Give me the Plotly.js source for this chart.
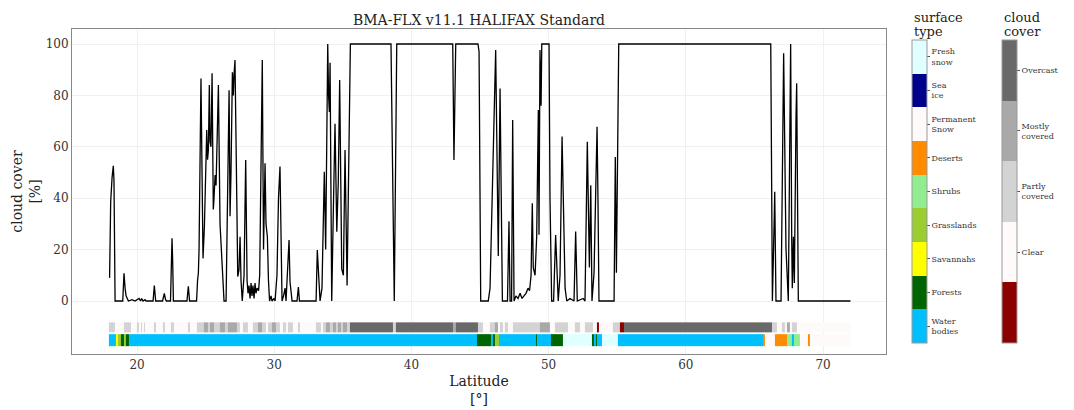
<!DOCTYPE html>
<html><head><meta charset="utf-8">
<script src="https://cdn.plot.ly/plotly-3.0.1.min.js"></script>
<style>html,body{margin:0;padding:0;background:#fff}</style>
</head><body><div id="chart" style="width:1074px;height:410px"></div>
<script>
const latitude = [18.00,18.08,18.18,18.27,18.32,18.40,18.96,19.05,19.13,19.20,19.37,19.64,19.85,20.15,20.26,20.34,20.44,20.58,20.66,21.17,21.26,21.36,21.86,21.99,22.08,22.15,22.44,22.48,22.51,22.55,22.60,22.65,23.64,23.74,23.83,24.34,24.41,24.47,24.52,24.66,24.81,24.91,25.08,25.14,25.20,25.27,25.32,25.39,25.47,25.56,25.61,25.69,25.76,25.93,26.05,26.17,26.27,26.34,26.49,26.60,26.65,26.71,26.78,26.85,26.95,27.02,27.07,27.14,27.27,27.34,27.43,27.51,27.58,27.67,27.80,27.92,28.02,28.09,28.16,28.24,28.31,28.38,28.45,28.53,28.60,28.67,28.75,28.86,28.94,29.13,29.22,29.33,29.40,29.50,29.58,29.66,29.77,29.84,29.99,30.06,30.20,30.31,30.42,30.50,30.57,30.68,30.79,30.86,30.97,31.08,31.15,31.22,31.30,31.66,31.76,31.84,33.05,33.14,33.21,33.34,33.48,33.56,33.65,33.75,33.90,33.96,34.02,34.07,34.19,34.31,34.43,34.56,34.67,34.77,34.92,35.04,35.16,35.31,35.55,38.51,38.56,38.61,38.75,38.93,43.01,43.10,43.23,44.85,44.93,45.05,45.60,45.73,45.85,46.14,46.33,46.46,46.63,47.00,47.11,47.19,47.30,47.38,47.48,47.62,47.77,47.92,48.06,48.21,48.35,48.50,48.61,48.72,48.81,48.88,49.01,49.13,49.25,49.30,49.37,49.45,49.50,50.03,50.10,50.22,50.36,50.51,50.70,50.83,50.98,51.20,51.32,51.56,51.85,51.97,52.09,52.51,52.65,52.82,52.97,53.07,53.16,53.31,53.45,53.53,53.60,53.67,54.77,54.86,54.94,55.11,66.19,66.31,66.45,66.48,66.57,66.94,67.13,67.30,67.47,67.64,67.72,67.76,67.84,67.91,68.03,68.08,68.20,72.00];
const cloudCover = [9,38.6,48,52.6,47,0,0,10.8,5,2,0,0.5,0,1,0,1,0,0.5,0,0,6,0,0,3,0.5,0,0,14,18,24.4,15,0,0,5.7,0,0,8,10.8,20,86.6,16.6,29,66.5,55,58.7,84,62,60,88.6,35.6,40,49,45,84,30,15.7,10,0,0,40,57,82,33,50,89,80,88,93.8,40,9.5,12,25,8,0,10,54.9,8,3,6,1,7,2,6,1,7,3,5,4,10,93.8,20,53.6,30,25,8,0,2,0,1,0,10,40,52.3,20,0,2,5,0,10,23.7,7.5,4,0,0,5.4,0,0,19.8,11,0,5,30,50.3,20,100,80,73.6,92.7,0,35.6,69,27,46.7,86,12.5,10,58.8,6,100,100,73.6,70,0,100,100,54.9,100,100,97,0,0,5,35,97.7,17.5,82.7,0,0,31,0,0,70.4,0,2,1,3,1,2,3,5,4,10,38,13,10,25,74.3,25.8,97.7,76,100,100,40,0,0,25.7,0,10,64,5,0,1,0,27,0,1,0,62,13,45,0,11,51,67.8,38,0,0,56,11,100,100,0,34,42.5,0,0,96.4,20.5,0,100,23,5,25,7,71,84.7,0,0];

// cloud cover strip: segment start latitudes and category codes
const cloudStart = [17.95,18.40,19.02,19.53,20.00,20.11,20.26,20.36,20.47,20.58,21.24,21.38,21.90,22.04,22.48,22.66,23.72,23.83,24.34,24.88,25.18,25.32,25.61,26.05,26.41,26.63,27.29,27.51,27.73,28.09,28.46,28.82,29.11,29.40,29.55,29.84,30.13,30.42,30.64,30.86,31.01,31.37,31.74,31.84,33.05,33.41,33.56,33.78,34.07,34.29,34.51,34.65,34.87,35.02,35.31,35.53,38.66,38.88,43.03,43.25,44.86,45.22,45.73,46.09,46.31,46.46,46.68,46.82,47.04,47.41,49.38,50.10,50.47,51.42,51.93,52.29,52.66,53.24,53.53,53.64,54.70,55.21,55.50,66.29,66.65,67.01,67.23,67.38,67.60,67.74,68.11];
const cloudCode  = [2,1,2,1,2,1,2,1,2,1,2,1,2,1,2,1,2,1,2,3,2,3,2,3,2,3,2,1,2,1,2,3,2,1,2,3,2,1,2,1,2,1,2,1,2,1,2,3,2,3,2,3,2,3,2,4,2,4,3,4,2,1,2,3,1,2,1,2,1,2,3,1,2,1,2,1,2,1,0,1,2,0,4,2,1,2,1,3,1,2,1];
const stripEnd = 72.0;

// surface type strip
const surfaceStart = [17.95,18.47,18.62,18.83,19.05,19.20,19.38,44.76,45.78,45.97,46.09,46.41,49.06,49.18,50.20,51.05,53.14,53.31,53.42,53.51,53.87,55.06,65.63,65.77,66.50,67.36,67.71,67.85,68.28,68.91,69.06];
const surfaceCode  = [0,2,3,1,3,1,0,1,0,1,3,0,1,0,1,8,1,0,1,0,8,0,5,6,5,4,0,4,6,5,6];

const cloudLabels = ['', 'Clear', 'Partly<br>covered', 'Mostly<br>covered', 'Overcast'];
const cloudColors = ['#8b0000', '#fffafa', '#d3d3d3', '#a9a9a9', '#696969'];
const surfaceLabels = ['Water<br>bodies','Forests','Savannahs','Grasslands','Shrubs','Deserts','Permanent<br>Snow','Sea<br>ice','Fresh<br>snow'];
const surfaceColors = ['#00bfff','#006400','#ffff00','#9acd32','#90ee90','#ff8c00','#fffafa','#00008b','#e0ffff'];
const xTicks = [20,30,40,50,60,70];
const yTicks = [0,20,40,60,80,100];

function discreteScale(colors){
  const n = colors.length, s = [];
  colors.forEach((c,i)=>{ s.push([i/n,c]); s.push([(i+1)/n,c]); });
  return s;
}
const FONT = 'DejaVu Serif, serif';
function cbar(x, labels, vals){
  return {x:x, xanchor:'left', xpad:0, y:0.5, yanchor:'middle', ypad:0,
    len:303, lenmode:'pixels', thickness:15, thicknessmode:'pixels',
    tickvals:vals, ticktext:labels, ticks:'outside', ticklen:3, tickcolor:'#555',
    tickfont:{family:FONT, size:8, color:'#333'}, outlinewidth:1, outlinecolor:'#999'};
}

const cloudTrace = {
  type:'heatmap', x:cloudStart.concat([stripEnd]), y:[-12.2,-8.3], z:[cloudCode],
  zmin:-0.5, zmax:cloudColors.length-0.5, colorscale:discreteScale(cloudColors),
  colorbar:cbar(1.1425, cloudLabels.slice(1), [1,2,3,4]), hoverinfo:'skip'
};
const surfaceTrace = {
  type:'heatmap', x:surfaceStart.concat([stripEnd]), y:[-17.4,-12.9], z:[surfaceCode],
  zmin:-0.5, zmax:surfaceColors.length-0.5, colorscale:discreteScale(surfaceColors),
  colorbar:cbar(1.0319, surfaceLabels, surfaceLabels.map((_,i)=>i)), hoverinfo:'skip'
};
const lineTrace = {
  type:'scatter', mode:'lines', x:latitude, y:cloudCover,
  line:{color:'#000', width:1.3}, showlegend:false
};

const axisCommon = {showgrid:true, gridcolor:'#f0f0f0', gridwidth:1, showline:true, mirror:true,
  linecolor:'#888', linewidth:1, ticks:'', zeroline:false,
  tickfont:{family:FONT, size:12, color:'#333'}};

const layout = {
  width:1074, height:410,
  margin:{l:72, r:188, t:29, b:56},
  paper_bgcolor:'#fff', plot_bgcolor:'#fff',
  font:{family:FONT, color:'#222'},
  title:{text:'BMA-FLX v11.1 HALIFAX Standard', font:{family:FONT, size:14, color:'#222'},
    x:0.5, xref:'paper', xanchor:'center', y:1, yref:'paper', yanchor:'bottom', pad:{b:4}},
  xaxis:Object.assign({}, axisCommon, {range:[15.26,74.59], tickvals:xTicks,
    title:{text:'Latitude<br>[°]', font:{family:FONT, size:14, color:'#222'}, standoff:4}}),
  yaxis:Object.assign({}, axisCommon, {range:[-20.62,105.84], tickvals:yTicks,
    title:{text:'cloud cover<br>[%]', font:{family:FONT, size:14, color:'#222'}, standoff:1}}),
  showlegend:false,
  annotations:[
    {text:'surface', x:1.0319, xref:'paper', xanchor:'left', y:1.0369, yref:'paper', yanchor:'middle', showarrow:false, font:{family:FONT, size:13, color:'#222'}},
    {text:'type', x:1.0319, xref:'paper', xanchor:'left', y:0.9938, yref:'paper', yanchor:'middle', showarrow:false, font:{family:FONT, size:13, color:'#222'}},
    {text:'cloud', x:1.1425, xref:'paper', xanchor:'left', y:1.0369, yref:'paper', yanchor:'middle', showarrow:false, font:{family:FONT, size:13, color:'#222'}},
    {text:'cover', x:1.1425, xref:'paper', xanchor:'left', y:0.9938, yref:'paper', yanchor:'middle', showarrow:false, font:{family:FONT, size:13, color:'#222'}}
  ]
};
Plotly.newPlot('chart', [cloudTrace, surfaceTrace, lineTrace], layout, {displayModeBar:false, staticPlot:true});
</script></body></html>
